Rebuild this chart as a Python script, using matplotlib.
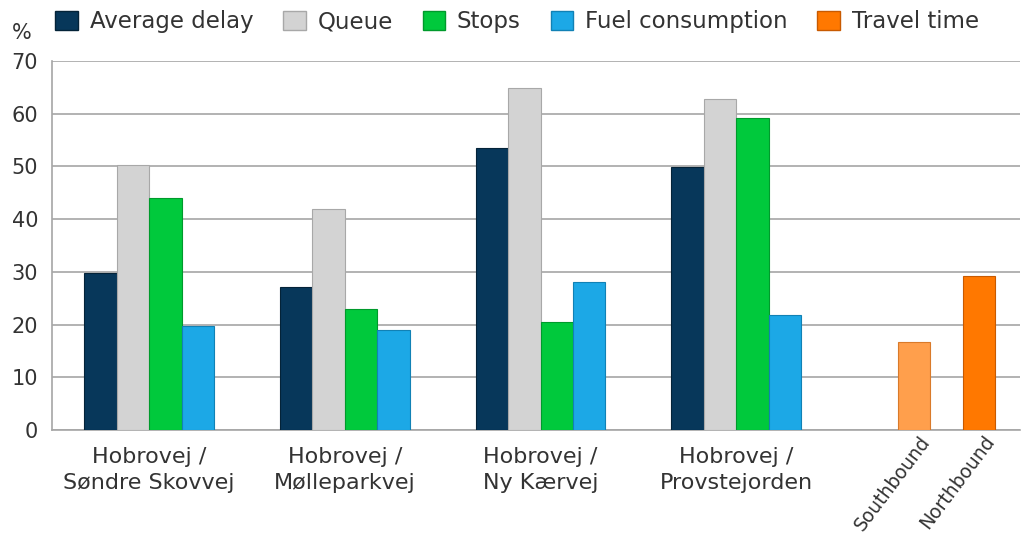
import numpy as np
import matplotlib
matplotlib.use("Agg")
import matplotlib.pyplot as plt
from matplotlib.patches import Patch
from matplotlib.transforms import blended_transform_factory, offset_copy

# data
intersections = ["Hobrovej /\nSøndre Skovvej", "Hobrovej /\nMølleparkvej",
                 "Hobrovej /\nNy Kærvej", "Hobrovej /\nProvstejorden"]
series = ["Average delay", "Queue", "Stops", "Fuel consumption"]
avg_delay = [29.7, 27.2, 53.5, 49.8]
queue = [50.3, 41.9, 64.8, 62.7]
stops = [44.0, 22.9, 20.5, 59.1]
fuel = [19.7, 19.0, 28.1, 21.8]
directions = ["Southbound", "Northbound"]
travel_time = [16.6, 29.3]

colors = ["#07375a", "#d3d3d3", "#00c93c", "#1ca8e6"]
edges = ["#042338", "#a8a8a8", "#009a2c", "#1181b5"]
orange = ["#ff9f4c", "#ff7800"]
orange_edge = ["#d97a2a", "#c85a00"]
txt = "#333333"

plt.rcParams['font.family'] = ['DejaVu Sans']

fig = plt.figure(figsize=(10.22, 5.37), dpi=100)
ax = fig.add_axes([52/1022, 1 - 430/537, 968/1022, 369/537])

w = 0.166
x = np.arange(len(intersections))
vals = [avg_delay, queue, stops, fuel]
for i, v in enumerate(vals):
    ax.bar(x + (i - 1.5) * w, v, w, color=colors[i], edgecolor=edges[i],
           linewidth=0.8, zorder=3)

tx = [4 - 0.55 * w, 4 + 1.45 * w]
ax.bar(tx, travel_time, w, color=orange, edgecolor=orange_edge,
       linewidth=0.8, zorder=3)

ax.set_xlim(-0.496, 4.45)
ax.set_ylim(0, 70)
ax.set_yticks(range(0, 71, 10))
ax.yaxis.grid(True, color="#a6a6a6", linewidth=1.2, zorder=0)
ax.tick_params(axis='y', length=0, pad=10, labelsize=15, labelcolor=txt)
ax.tick_params(axis='x', length=0, pad=12, labelsize=16, labelcolor=txt)
for s in ["top", "right"]:
    ax.spines[s].set_visible(False)
for s in ["left", "bottom"]:
    ax.spines[s].set_color("#a6a6a6")
    ax.spines[s].set_linewidth(1.2)

ax.set_xticks(x)
ax.set_xticklabels(intersections, linespacing=1.4)

# rotated direction labels under the travel time bars
trans = blended_transform_factory(ax.transData, ax.transAxes)
for xi, lab in zip(tx, directions):
    t = offset_copy(trans, fig=fig, x=12, y=-8, units='dots')
    ax.text(xi, 0, lab, transform=t, rotation=53, rotation_mode='anchor',
            ha='right', va='center', fontsize=13.5, color=txt)

fig.text(12/1022, 1 - 33/537, "%", fontsize=15, color=txt, va='center', ha='left')

handles = [Patch(facecolor=colors[i], edgecolor=edges[i]) for i in range(4)]
handles.append(Patch(facecolor=orange[1], edgecolor=orange_edge[1]))
fig.legend(handles, series + ["Travel time"], loc='center', ncol=5,
           bbox_to_anchor=(517/1022, 1 - 22/537), frameon=False,
           fontsize=16.5, labelcolor=txt, handlelength=1.0, handleheight=0.9,
           handletextpad=0.5, columnspacing=1.3)

fig.savefig("out.png", dpi=100, facecolor="white")
